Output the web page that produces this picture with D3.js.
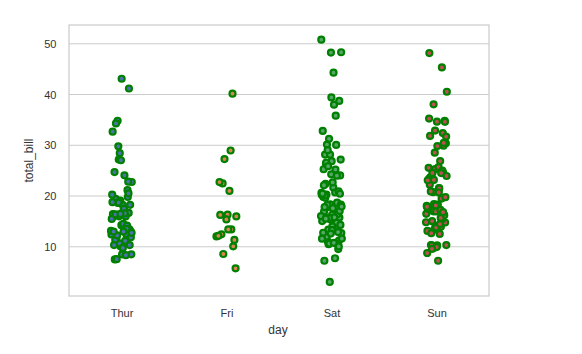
<!DOCTYPE html>
<html>
<head>
<meta charset="utf-8">
<script src="https://cdn.jsdelivr.net/npm/d3@7"></script>
<style>
  body { margin: 0; background: #fff; }
  svg text { font-family: Arial, "Liberation Sans", sans-serif; fill: #333333; }
</style>
</head>
<body>
<svg id="chart" width="582" height="354"></svg>
<script>
// Categories and tick labels
const days = ["Thur", "Fri", "Sat", "Sun"];
const yTicks = [10, 20, 30, 40, 50];

// total_bill values per day (tips dataset)
const thur = [27.2, 22.76, 17.29, 19.44, 16.66, 10.07, 32.68, 15.98, 34.83, 13.03, 18.28, 24.71, 21.16,
  10.65, 12.43, 24.08, 11.69, 13.42, 14.26, 15.95, 12.48, 29.8, 8.52, 14.52, 11.38, 22.82, 19.08, 20.27,
  11.17, 12.26, 18.26, 8.51, 10.33, 14.15, 16.0, 13.16, 17.47, 34.3, 41.19, 27.05, 16.43, 8.35, 18.64,
  11.87, 9.78, 7.51, 19.81, 28.44, 15.48, 16.58, 7.56, 10.34, 43.11, 13.0, 13.51, 18.71, 12.74, 13.0,
  16.4, 20.53, 16.47, 18.78];
const fri = [28.97, 22.49, 5.75, 16.32, 22.75, 40.17, 27.28, 12.03, 21.01, 12.46, 11.35, 15.38,
  12.16, 13.42, 8.58, 15.98, 13.42, 16.27, 10.09];
const sat = [20.65, 17.92, 20.29, 15.77, 39.42, 19.82, 17.81, 13.37, 12.69, 21.7, 19.65, 9.55, 18.35,
  15.06, 20.69, 17.78, 24.06, 16.31, 16.93, 18.69, 31.27, 16.04, 38.01, 26.41, 11.24, 48.27, 20.29,
  13.81, 11.02, 18.29, 17.59, 20.08, 16.45, 3.07, 20.23, 15.01, 12.02, 17.07, 26.86, 25.28, 14.73,
  10.51, 17.92, 44.3, 22.42, 20.92, 15.36, 20.49, 25.21, 18.24, 14.31, 14.0, 7.25, 10.59, 10.63,
  50.81, 15.81, 26.59, 38.73, 24.27, 12.76, 30.06, 25.89, 48.33, 13.27, 28.17, 12.9, 28.15, 11.59,
  7.74, 30.14, 20.45, 13.28, 22.12, 24.01, 15.69, 11.61, 10.77, 15.53, 10.07, 12.6, 32.83, 35.83,
  29.03, 27.18, 22.67, 17.82];
const sun = [16.99, 10.34, 21.01, 23.68, 24.59, 25.29, 8.77, 26.88, 15.04, 14.78, 10.27, 35.26, 15.42,
  18.43, 14.83, 21.58, 10.33, 16.29, 16.97, 17.46, 13.94, 9.68, 30.4, 18.29, 22.23, 32.4, 28.55, 18.04,
  12.54, 10.29, 34.81, 9.94, 25.56, 19.49, 38.07, 23.95, 25.71, 17.31, 29.93, 14.07, 13.13, 17.26,
  24.55, 19.77, 29.85, 48.17, 25.0, 13.39, 16.49, 21.5, 12.66, 16.21, 13.81, 17.51, 24.52, 20.76,
  31.71, 7.25, 31.85, 16.82, 32.9, 17.89, 14.48, 9.6, 34.63, 34.65, 23.33, 45.35, 23.17, 40.55, 20.69,
  20.9, 30.46, 18.15, 23.1, 15.69];

const fills = ["#4c72b0", "#dd8452", "#55a868", "#c44e52"];
const seriesByDay = [thur, fri, sat, sun];

// Layout
const mLeft = 69, mRight = 489, mTop = 25, mBottom = 296;
const svg = d3.select("#chart");

const x = d3.scalePoint().domain(days).range([mLeft, mRight]).padding(0.5);
const step = x.step();
const y = d3.scaleLinear().domain([0.3, 53.7]).range([mBottom, mTop]);

// Horizontal gridlines
svg.append("g")
  .selectAll("line")
  .data(yTicks)
  .join("line")
  .attr("x1", mLeft).attr("x2", mRight)
  .attr("y1", d => y(d)).attr("y2", d => y(d))
  .attr("stroke", "#cccccc").attr("stroke-width", 1);

// Frame
svg.append("rect")
  .attr("x", mLeft).attr("y", mTop)
  .attr("width", mRight - mLeft).attr("height", mBottom - mTop)
  .attr("fill", "none").attr("stroke", "#cccccc").attr("stroke-width", 1.25);

// Y axis
const yAxis = svg.append("g")
  .attr("transform", `translate(${mLeft},0)`)
  .call(d3.axisLeft(y).tickValues(yTicks).tickSize(0).tickPadding(12.5));
yAxis.select(".domain").remove();
yAxis.selectAll("text").style("font-size", "11px").attr("fill", "#333333");

// X axis
const xAxis = svg.append("g")
  .attr("transform", `translate(0,${mBottom})`)
  .call(d3.axisBottom(x).tickSize(0).tickPadding(13));
xAxis.select(".domain").remove();
xAxis.selectAll("text").style("font-size", "11px").attr("fill", "#333333");

// Axis labels
svg.append("text")
  .attr("x", (mLeft + mRight) / 2 - 1).attr("y", 334)
  .attr("text-anchor", "middle").style("font-size", "12px")
  .text("day");
svg.append("text")
  .attr("transform", `translate(33,${(mTop + mBottom) / 2}) rotate(-90)`)
  .attr("text-anchor", "middle").style("font-size", "12px")
  .text("total_bill");

// Deterministic jitter (low-discrepancy sequence), +/- 0.1 of category spacing
const jitter = i => (((i * 0.6180339887 + 0.37) % 1) - 0.5) * 0.2 * step;

days.forEach((day, k) => {
  svg.append("g")
    .selectAll("circle")
    .data(seriesByDay[k])
    .join("circle")
    .attr("cx", (d, i) => x(day) + jitter(i + k * 7))
    .attr("cy", d => y(d))
    .attr("r", 3)
    .attr("fill", fills[k])
    .attr("stroke", "green")
    .attr("stroke-width", 2.2);
});
</script>
</body>
</html>
